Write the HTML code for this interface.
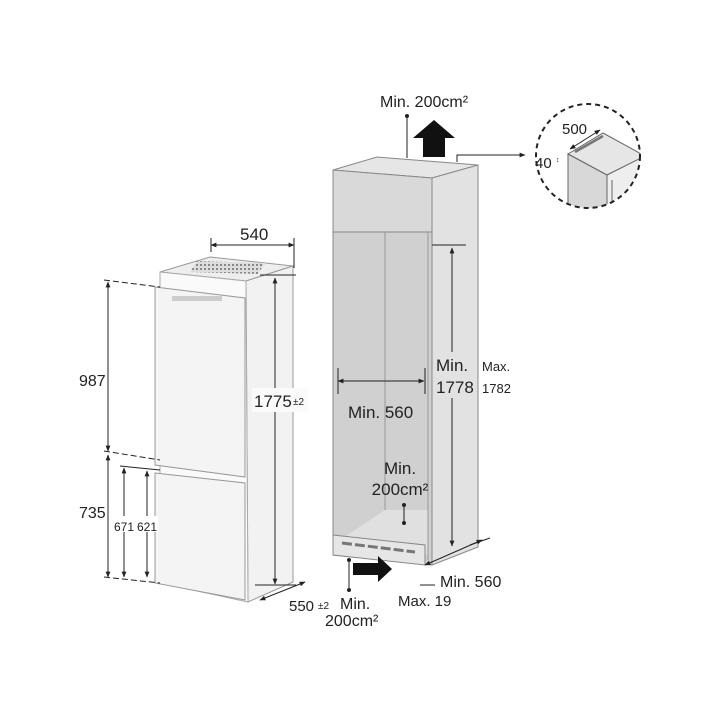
<!DOCTYPE html>
<html><head><meta charset="utf-8"><style>
html,body{margin:0;padding:0;background:#fff;}
svg{display:block;font-family:"Liberation Sans","DejaVu Sans",sans-serif;}
</style></head><body>
<svg width="716" height="716" viewBox="0 0 716 716" xmlns="http://www.w3.org/2000/svg">
<defs>
<marker id="a" viewBox="0 0 10 10" refX="9" refY="5" markerWidth="6" markerHeight="6" orient="auto-start-reverse"><path d="M0,1 L10,5 L0,9 z" fill="#222"/></marker>
<clipPath id="cc"><circle cx="588" cy="156" r="52"/></clipPath>
<pattern id="g" width="4" height="4" patternUnits="userSpaceOnUse"><rect width="4" height="4" fill="#ddd"/><rect width="2" height="2" fill="#888"/></pattern>
</defs>
<!-- FRIDGE -->
<polygon points="160,272 210,257 293,266 246,281" fill="#eee" stroke="#999" stroke-width="1"/>
<polygon points="197,261 265,263 258,274 190,272" fill="url(#g)"/>
<polygon points="246,281 293,266 293,582 248,602" fill="#f2f2f2" stroke="#999"/>
<polygon points="160,272 246,281 248,602 160,583" fill="#fafafa" stroke="#aaa"/>
<polygon points="155,287 245,298 245,477 155,465" fill="#f4f4f4" stroke="#999"/>
<polygon points="155,473 245,483 245,600 155,583" fill="#f4f4f4" stroke="#999"/>
<rect x="172" y="296" width="50" height="5" fill="#ccc"/>
<!-- fridge dims -->
<line x1="211" y1="245" x2="294" y2="245" stroke="#222" marker-start="url(#a)" marker-end="url(#a)"/>
<line x1="211" y1="238" x2="211" y2="252" stroke="#222"/><line x1="294" y1="238" x2="294" y2="268" stroke="#222"/>
<text x="240" y="240" font-size="17" fill="#222">540</text>
<line x1="275" y1="278" x2="275" y2="584" stroke="#222" marker-start="url(#a)" marker-end="url(#a)"/>
<line x1="260" y1="275" x2="296" y2="275" stroke="#222"/>
<line x1="255" y1="585" x2="296" y2="585" stroke="#222"/>
<rect x="252" y="388" width="56" height="24" fill="#fafafa"/>
<text x="254" y="407" font-size="17" fill="#222">1775</text><text x="293" y="405" font-size="10" fill="#222">±2</text>
<line x1="260" y1="600" x2="305" y2="582" stroke="#222" marker-start="url(#a)" marker-end="url(#a)"/>
<text x="289" y="611" font-size="15" fill="#222">550</text><text x="318" y="609" font-size="10" fill="#222">±2</text>
<line x1="108" y1="282" x2="108" y2="451" stroke="#222" marker-start="url(#a)" marker-end="url(#a)"/>
<line x1="108" y1="455" x2="108" y2="577" stroke="#222" marker-start="url(#a)" marker-end="url(#a)"/>
<line x1="124" y1="468" x2="124" y2="577" stroke="#222" marker-start="url(#a)" marker-end="url(#a)"/>
<line x1="147" y1="471" x2="147" y2="577" stroke="#222" marker-start="url(#a)" marker-end="url(#a)"/>
<line x1="104" y1="280" x2="160" y2="287" stroke="#222" stroke-dasharray="6,3"/>
<line x1="104" y1="451" x2="160" y2="460" stroke="#222" stroke-dasharray="6,3"/>
<line x1="120" y1="466" x2="160" y2="470" stroke="#222"/>
<line x1="104" y1="577" x2="160" y2="583" stroke="#222" stroke-dasharray="6,3"/>
<text x="79" y="386" font-size="16" fill="#222">987</text>
<text x="79" y="518" font-size="16" fill="#222">735</text>
<rect x="114" y="516" width="44" height="16" fill="#fff"/>
<text x="114" y="531" font-size="12" fill="#222">671</text><text x="137" y="531" font-size="12" fill="#222">621</text>
<!-- CABINET -->
<polygon points="333,170 377,157 478,165 432,178" fill="#e6e6e6" stroke="#888"/>
<polygon points="432,178 478,165 478,547 432,565" fill="#e2e2e2" stroke="#888"/>
<polygon points="333,170 432,178 432,232 333,232" fill="#d9d9d9" stroke="#888"/>
<polygon points="333,232 432,232 432,565 333,555" fill="#d0d0d0" stroke="#888"/>
<line x1="385" y1="232" x2="385" y2="510" stroke="#999"/>
<polygon points="340,540 385,510 428,510 428,555" fill="#e0e0e0"/>
<polygon points="333,535 425,545 425,565 333,555" fill="#e6e6e6" stroke="#888"/>
<line x1="342" y1="543" x2="415" y2="552" stroke="#777" stroke-width="3" stroke-dasharray="10,3"/>
<line x1="428" y1="232" x2="428" y2="560" stroke="#999"/>
<!-- cabinet dims -->
<line x1="432" y1="245" x2="466" y2="245" stroke="#222"/>
<line x1="452" y1="248" x2="452" y2="546" stroke="#222" marker-start="url(#a)" marker-end="url(#a)"/>
<rect x="434" y="352" width="40" height="46" fill="#e2e2e2"/>
<text x="436" y="371" font-size="17" fill="#222">Min.</text>
<text x="436" y="393" font-size="17" fill="#222">1778</text>
<text x="482" y="371" font-size="13" fill="#222">Max.</text>
<text x="482" y="393" font-size="13" fill="#222">1782</text>
<line x1="338" y1="381" x2="424" y2="381" stroke="#222" marker-start="url(#a)" marker-end="url(#a)"/>
<line x1="338" y1="368" x2="338" y2="394" stroke="#222"/><line x1="425" y1="368" x2="425" y2="394" stroke="#222"/>
<text x="348" y="418" font-size="17" fill="#222">Min. 560</text>
<text x="400" y="474" font-size="17" text-anchor="middle" fill="#222">Min.</text>
<text x="400" y="495" font-size="17" text-anchor="middle" fill="#222">200cm²</text>
<circle cx="404" cy="505" r="2" fill="#222"/><line x1="404" y1="505" x2="404" y2="523" stroke="#222"/><circle cx="404" cy="523" r="2" fill="#222"/>
<line x1="425" y1="565" x2="482" y2="540" stroke="#222" marker-start="url(#a)" marker-end="url(#a)"/>
<line x1="470" y1="545" x2="490" y2="538" stroke="#222"/>
<text x="440" y="587" font-size="16" fill="#222">Min. 560</text>
<text x="398" y="606" font-size="15" fill="#222">Max. 19</text>
<line x1="420" y1="585" x2="435" y2="585" stroke="#222"/>
<text x="340" y="609" font-size="16" fill="#222">Min.</text>
<text x="325" y="626" font-size="16" fill="#222">200cm²</text>
<circle cx="349" cy="560" r="2" fill="#222"/><line x1="349" y1="560" x2="349" y2="590" stroke="#222"/><circle cx="349" cy="590" r="2" fill="#222"/>
<polygon points="353,563 378,563 378,556 392,569 378,582 378,575 353,575" fill="#111"/>
<!-- top arrow -->
<polygon points="423,157 445,157 445,138 455,138 434,120 413,138 423,138" fill="#111"/>
<text x="380" y="107" font-size="16" fill="#222">Min. 200cm²</text>
<circle cx="407" cy="116" r="2" fill="#222"/><line x1="407" y1="116" x2="407" y2="158" stroke="#222"/>
<polyline points="457,162 457,155 525,155" fill="none" stroke="#222" marker-end="url(#a)"/>
<!-- inset -->
<g clip-path="url(#cc)">
<polygon points="568,154 603,133 645,156 607,175" fill="#e6e6e6" stroke="#666"/>
<polygon points="568,154 607,175 607,215 568,215" fill="#d8d8d8" stroke="#666"/>
<polygon points="607,175 645,156 645,215 607,215" fill="#eee" stroke="#666"/>
<line x1="575" y1="152" x2="603" y2="136" stroke="#777" stroke-width="2.5"/>
<line x1="612" y1="180" x2="612" y2="215" stroke="#666"/>
</g>
<circle cx="588" cy="156" r="52" fill="none" stroke="#222" stroke-width="2" stroke-dasharray="5,4"/>
<line x1="570" y1="149" x2="600" y2="130" stroke="#222" marker-start="url(#a)" marker-end="url(#a)"/>
<text x="562" y="134" font-size="15" fill="#222">500</text>
<text x="535" y="168" font-size="15" fill="#222">40</text><text x="556" y="162" font-size="7" fill="#222">↕</text>
</svg>
</body></html>
